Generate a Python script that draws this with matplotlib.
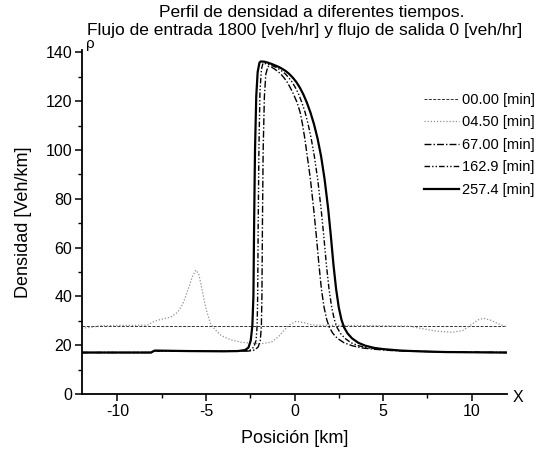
import matplotlib
matplotlib.use("Agg")
import matplotlib.pyplot as plt
from matplotlib.ticker import MultipleLocator

plt.rcParams['font.family'] = ['Liberation Sans', 'DejaVu Sans']

# ---- data ----
labels = ["00.00 [min]", "04.50 [min]", "67.00 [min]", "162.9 [min]", "257.4 [min]"]

x_t000 = [-12, 12]
y_t000 = [28, 28]

x_t045 = [-12, -11.5, -11.0, -10, -8.3, -8.0, -7.7, -7.0, -6.6, -6.3, -6.0, -5.75, -5.57,
          -5.4, -5.2, -5.0, -4.75, -4.5, -4.15, -3.6, -3.0, -2.4, -1.9, -1.3, -0.9, -0.6,
          -0.3, 0.1, 0.5, 1.0, 1.4, 3.0, 5.0, 6.5, 7.2, 8.0, 8.9, 9.5, 10.0, 10.4, 10.7,
          11.1, 11.5, 12.0]
y_t045 = [27.0, 27.3, 28.0, 28.1, 28.2, 29.5, 30.3, 31.5, 33.5, 37, 43, 48.5, 50.8,
          49, 42, 35, 29, 26.5, 24.0, 22.2, 21.2, 20.8, 20.6, 21.3, 23.5, 26,
          28.3, 29.8, 29.3, 28.3, 28.2, 28.1, 28.0, 27.8, 26.8, 25.8, 25.3, 26.0, 28.5, 30.5, 31.0,
          30.2, 28.8, 27.5]

x_t670 = [-12, -8.1, -7.9, -4, -2.6, -2.25, -2.05, -1.93, -1.87, -1.84, -1.81, -1.77, -1.7,
          -1.62, -1.5, -1.3, -1.15, -0.97, -0.78, -0.6, -0.42, -0.24, -0.05, 0.15, 0.32,
          0.45, 0.58, 0.72, 0.9, 1.08, 1.23, 1.38, 1.52, 1.67, 1.82, 1.97, 2.17, 2.42, 2.8,
          3.25, 3.8, 4.4, 5.5, 7, 8.5, 10, 12]
y_t670 = [17.0, 17.0, 17.7, 17.5, 17.6, 18.0, 19.3, 22, 28, 40, 70, 100, 122,
          131, 134.3, 134.0, 133.3, 132.4, 131.2, 129.7, 127.9, 125.6, 122.8, 119.4, 115.4,
          110.6, 104.8, 97.5, 88, 76, 65, 53, 43, 35.5, 30.5, 27.3, 24.8, 22.8, 21.0,
          19.8, 18.9, 18.4, 17.8, 17.5, 17.2, 17.1, 17.0]

x_t1629 = [-12, -8.1, -7.9, -4, -2.9, -2.5, -2.3, -2.17, -2.11, -2.08, -2.05, -2.01, -1.95,
           -1.87, -1.78, -1.55, -1.3, -1.1, -0.9, -0.72, -0.52, -0.33, -0.14, 0.05, 0.24,
           0.42, 0.6, 0.77, 0.94, 1.12, 1.31, 1.5, 1.65, 1.8, 1.95, 2.1, 2.25, 2.4, 2.6,
           2.85, 3.2, 3.6, 4.15, 4.7, 5.8, 7, 8.5, 10, 12]
y_t1629 = [17.0, 17.0, 17.7, 17.5, 17.6, 18.0, 19.2, 22, 28, 40, 70, 100, 124,
           133, 135.6, 135.3, 134.7, 134.1, 133.3, 132.4, 131.2, 129.7, 127.9, 125.6, 122.8,
           119.4, 115.4, 110.6, 104.8, 97.5, 88, 76, 65, 53, 43, 35.5, 30.5, 27.3, 24.8,
           22.8, 21.0, 19.8, 18.9, 18.4, 17.8, 17.5, 17.2, 17.1, 17.0]

x_t2574 = [-12, -8.1, -7.9, -6, -4, -3.2, -2.8, -2.6, -2.47, -2.38, -2.32, -2.28, -2.23,
           -2.16, -2.08, -1.98, -1.91, -1.7, -1.5, -1.3, -1.1, -0.9, -0.7, -0.5, -0.3, -0.1,
           0.1, 0.3, 0.5, 0.7, 0.9, 1.1, 1.3, 1.5, 1.7, 1.9, 2.05, 2.2, 2.35, 2.5, 2.65,
           2.8, 3.0, 3.25, 3.6, 4.0, 4.5, 5.0, 6.0, 7.0, 8.5, 10, 12]
y_t2574 = [17.0, 17.0, 17.8, 17.6, 17.5, 17.6, 18.0, 19.0, 22, 28, 40, 70, 100,
           122, 132, 135.8, 136.3, 136.2, 135.8, 135.3, 134.7, 134.1, 133.3, 132.4, 131.2, 129.7,
           127.9, 125.6, 122.8, 119.4, 115.4, 110.6, 104.8, 97.5, 88, 76, 65, 53, 43, 35.5, 30.5,
           27.3, 24.8, 22.8, 21.0, 19.8, 18.9, 18.4, 17.8, 17.5, 17.2, 17.1, 17.0]

x_ticks = [-10, -5, 0, 5, 10]
y_ticks = [0, 20, 40, 60, 80, 100, 120, 140]

# ---- figure ----
fig = plt.figure(figsize=(5.59, 4.54), dpi=100)
ax = fig.add_axes([82/559, 1-394/454, (507-82)/559, (394-50)/454])

ax.plot(x_t000, y_t000, color='#333333', lw=0.7, ls=(0, (3, 1.5)), label=labels[0])
ax.plot(x_t045, y_t045, color='#909090', lw=0.9, ls=(0, (1, 1.5)), label=labels[1])
ax.plot(x_t670, y_t670, color='black', lw=1.0, ls=(0, (5, 1.5, 1, 1.5)), label=labels[2])
ax.plot(x_t1629, y_t1629, color='black', lw=1.0, ls=(0, (4, 1.5, 1, 1.5, 1, 1.5)), label=labels[3])
ax.plot(x_t2574, y_t2574, color='black', lw=1.6, ls='-', label=labels[4])

ax.set_xlim(-12, 12)
ax.set_ylim(0, 141)
ax.set_xticks(x_ticks)
ax.set_yticks(y_ticks)
ax.set_xticklabels([str(v) for v in x_ticks])
ax.xaxis.set_minor_locator(MultipleLocator(2.5))
ax.yaxis.set_minor_locator(MultipleLocator(10))
ax.tick_params(which='major', direction='out', length=5, width=1.1, labelsize=11.5, pad=2)
ax.tick_params(which='minor', direction='out', length=3, width=1.0)
for s in ['top', 'right']:
    ax.spines[s].set_visible(False)
for s in ['left', 'bottom']:
    ax.spines[s].set_linewidth(1.3)

ax.set_xlabel("Posición [km]", fontsize=13, labelpad=8)
ax.set_ylabel("Densidad [Veh/km]", fontsize=13, labelpad=10)

fig.text(312/559, 1-12/454, "Perfil de densidad a diferentes tiempos.", ha='center', va='center', fontsize=12.5)
fig.text(305/559, 1-31/454, "Flujo de entrada 1800 [veh/hr] y flujo de salida 0 [veh/hr]",
         ha='center', va='center', fontsize=12.5)

fig.text(86/559, 1-44/454, "ρ", ha='left', va='center', fontsize=11)
fig.text(513/559, 1-397/454, "X", ha='left', va='center', fontsize=11.5)

ax.legend(loc='upper right', bbox_to_anchor=(535/559, 1-93/454), bbox_transform=fig.transFigure,
          frameon=False, fontsize=10.5, handlelength=2.4, handletextpad=0.2, labelspacing=0.58,
          borderpad=0, borderaxespad=0)

fig.savefig("out.png", dpi=100)
